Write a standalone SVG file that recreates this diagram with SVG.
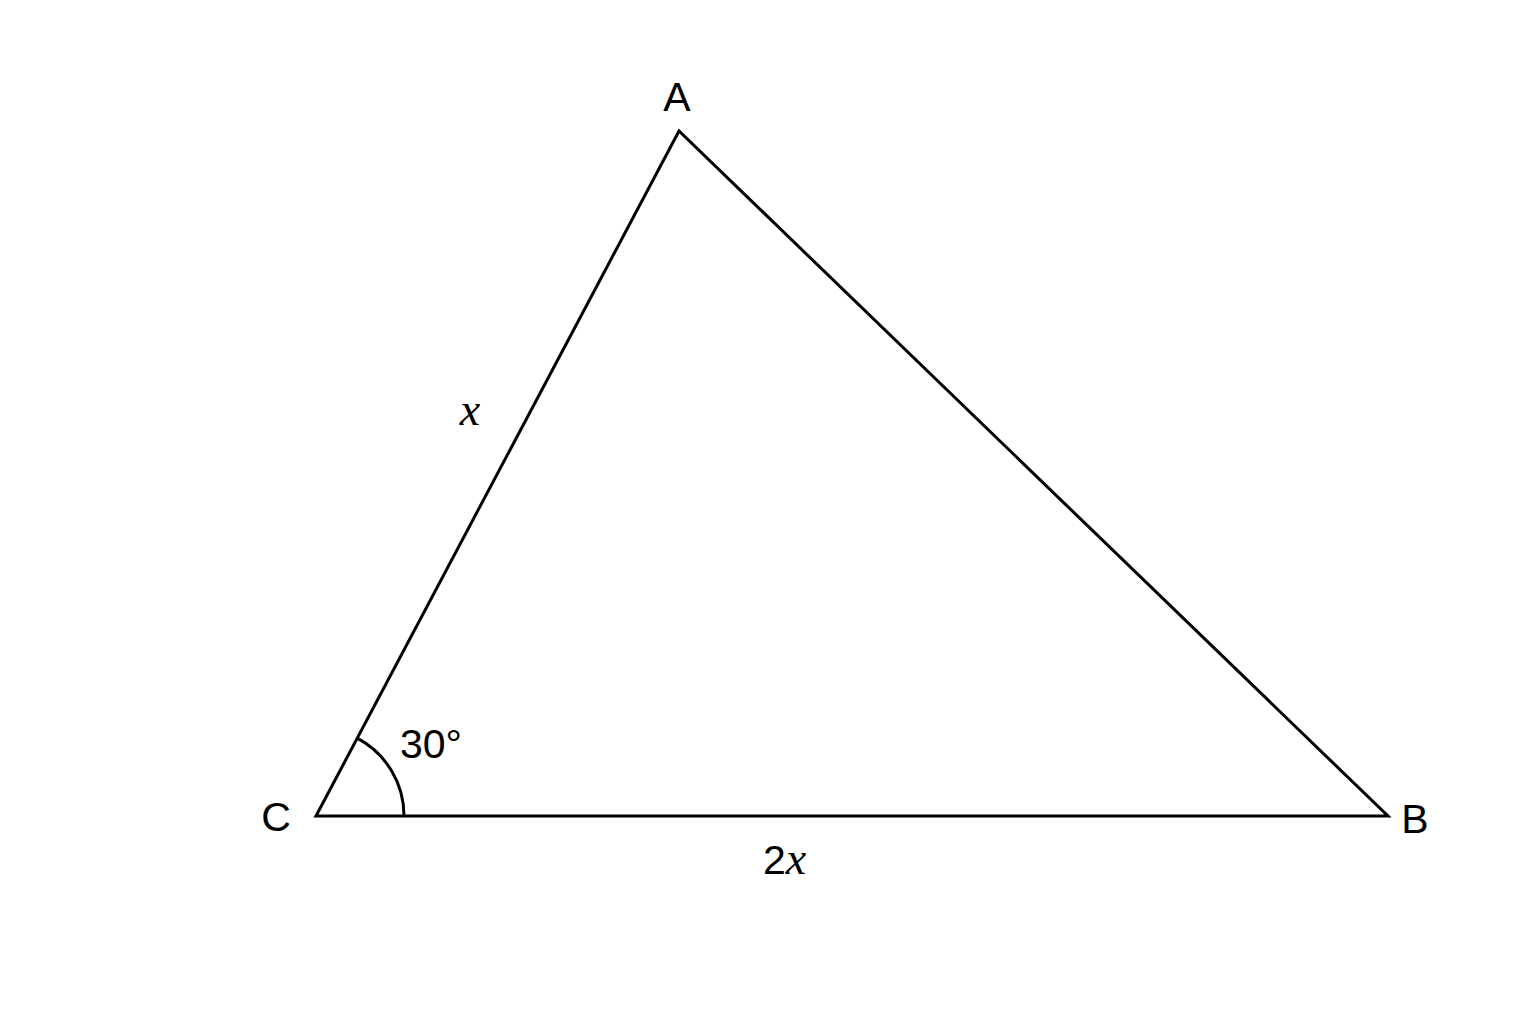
<svg xmlns="http://www.w3.org/2000/svg" width="1536" height="1024" viewBox="0 0 1536 1024">
<style>
.edge{fill:none;stroke:#000;stroke-width:3;stroke-linejoin:miter}
.lbl{font-family:"Liberation Sans",Arial,sans-serif;font-size:41px;fill:#000}
.var{font-family:"Liberation Serif","Times New Roman",serif;font-style:italic;font-size:46px}
</style>
<rect width="1536" height="1024" fill="#fff"/>
<g id="connectors">
<polygon class="edge" points="316,816 679,131 1388,816"/>
<path class="edge" d="M357.2,738.2 A88,88 0 0 1 404,816"/>
</g>
<g id="node-A"><text class="lbl" x="677" y="111" text-anchor="middle">A</text></g>
<g id="node-B"><text class="lbl" x="1415" y="833" text-anchor="middle">B</text></g>
<g id="node-C"><text class="lbl" x="276" y="831" text-anchor="middle">C</text></g>
<g id="label-x"><text class="lbl var" x="470" y="425" text-anchor="middle">x</text></g>
<g id="label-angle"><text class="lbl" x="400" y="758">30°</text></g>
<g id="label-2x"><text class="lbl" x="763" y="874">2<tspan class="var">x</tspan></text></g>
</svg>
